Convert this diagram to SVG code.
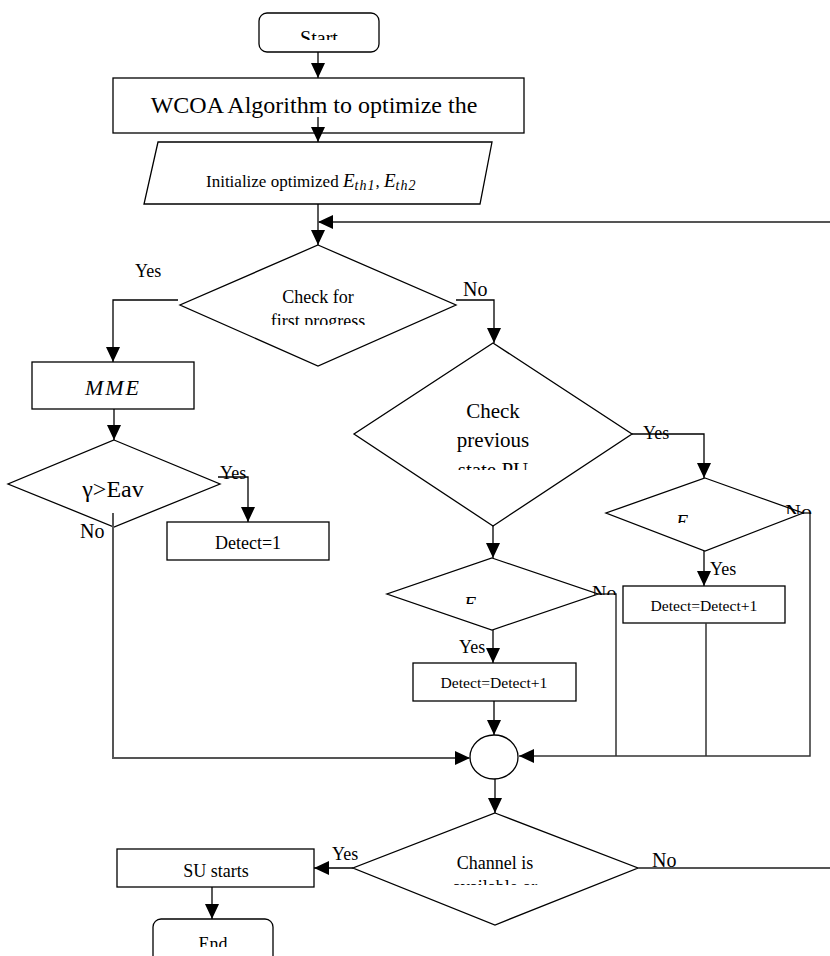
<svg xmlns="http://www.w3.org/2000/svg" width="830" height="956" viewBox="0 0 830 956">
<defs>
<marker id="ah" viewBox="0 0 15 14" refX="15" refY="7" markerWidth="15" markerHeight="14" markerUnits="userSpaceOnUse" orient="auto">
<path d="M0,0 L15,7 L0,14 z" fill="#000"/>
</marker>
<clipPath id="cStart"><rect x="250" y="0" width="140" height="40"/></clipPath>
<clipPath id="cD1"><rect x="200" y="250" width="240" height="75"/></clipPath>
<clipPath id="cD3"><rect x="380" y="350" width="230" height="120"/></clipPath>
<clipPath id="cD4"><rect x="600" y="480" width="200" height="43"/></clipPath>
<clipPath id="cD5"><rect x="380" y="560" width="210" height="44"/></clipPath>
<clipPath id="cD6"><rect x="380" y="820" width="240" height="65"/></clipPath>
<clipPath id="cEnd"><rect x="150" y="915" width="130" height="32"/></clipPath>
<clipPath id="cNo4"><rect x="770" y="490" width="60" height="24"/></clipPath>
<clipPath id="cNo5"><rect x="580" y="570" width="60" height="25"/></clipPath>
</defs>
<style>
.s{fill:#fff;stroke:#000;stroke-width:1.3}
.t{font-family:"Liberation Serif","Times New Roman",serif;fill:#000;text-anchor:middle}
.l{font-family:"Liberation Serif","Times New Roman",serif;fill:#000}
.c{fill:none;stroke:#000;stroke-width:1.3}
.g{fill:none;stroke:#555;stroke-width:2}
.k{fill:none;stroke:#333;stroke-width:1.5}
</style>
<rect width="830" height="956" fill="#fff"/>

<g id="start">
<rect class="s" x="259" y="13" width="120" height="39" rx="8"/>
<text class="t" x="319" y="45" font-size="20" clip-path="url(#cStart)">Start</text>
</g>
<g id="wcoa">
<rect class="s" x="113" y="78" width="411" height="55"/>
<text class="t" x="314" y="113" font-size="24">WCOA Algorithm to optimize the</text>
</g>
<g id="init">
<polygon class="s" points="158,142 492,142 480,204 144,204"/>
<text class="l" x="206" y="187" font-size="17">Initialize optimized <tspan font-style="italic" font-size="19">E</tspan><tspan font-style="italic" font-size="14" dy="3" letter-spacing="1">th1</tspan><tspan dy="-3">, </tspan><tspan font-style="italic" font-size="19">E</tspan><tspan font-style="italic" font-size="14" dy="3" letter-spacing="1">th2</tspan></text>
</g>
<g id="d1">
<polygon class="s" points="318,245 456,305 318,366 180,305"/>
<g clip-path="url(#cD1)">
<text class="t" x="318" y="303" font-size="18">Check for</text>
<text class="t" x="318" y="327" font-size="18">first progress</text>
</g>
</g>
<g id="mme">
<rect class="s" x="32" y="362" width="162" height="47"/>
<text class="t" x="113" y="395" font-size="22" font-style="italic" letter-spacing="2">MME</text>
</g>
<g id="d2">
<polygon class="s" points="114,440 220,484 114,527 8,484"/>
<text class="t" x="113" y="497" font-size="24">γ&gt;Eav</text>
</g>
<g id="detect1">
<rect class="s" x="167" y="522" width="162" height="38"/>
<text class="t" x="248" y="549" font-size="18">Detect=1</text>
</g>
<g id="d3">
<polygon class="s" points="493,343 632,434 493,526 354,434"/>
<g clip-path="url(#cD3)">
<text class="t" x="493" y="418" font-size="21">Check</text>
<text class="t" x="493" y="447" font-size="21">previous</text>
<text class="t" x="493" y="477" font-size="21">state PU</text>
</g>
</g>
<g id="d4">
<polygon class="s" points="705,478 803,513 705,551 606,513"/>
<text class="l" x="676" y="529" font-size="20" font-style="italic" clip-path="url(#cD4)">E</text>
</g>
<g id="detect3">
<rect class="s" x="623" y="586" width="162" height="37"/>
<text class="t" x="704" y="611" font-size="15.6">Detect=Detect+1</text>
</g>
<g id="d5">
<polygon class="s" points="492,558 598,594 492,630 387,594"/>
<text class="l" x="464" y="611" font-size="20" font-style="italic" clip-path="url(#cD5)">E</text>
</g>
<g id="detect2">
<rect class="s" x="413" y="663" width="163" height="38"/>
<text class="t" x="494" y="688" font-size="15.6">Detect=Detect+1</text>
</g>
<g id="join">
<ellipse class="s" cx="494" cy="757" rx="24" ry="22"/>
</g>
<g id="d6">
<polygon class="s" points="495,813 638,868 495,925 353,868"/>
<g clip-path="url(#cD6)">
<text class="t" x="495" y="869" font-size="18">Channel is</text>
<text class="t" x="495" y="893" font-size="18">available or</text>
</g>
</g>
<g id="su">
<rect class="s" x="117" y="849" width="197" height="38"/>
<text class="t" x="216" y="877" font-size="18">SU starts</text>
</g>
<g id="end">
<rect class="s" x="153" y="919" width="120" height="60" rx="8"/>
<text class="t" x="213" y="950" font-size="18" clip-path="url(#cEnd)">End</text>
</g>

<g id="connectors">
<path class="c" d="M318,52 V78" marker-end="url(#ah)"/>
<path class="c" d="M318,117 V142" marker-end="url(#ah)"/>
<path class="c" d="M318,204 V245" marker-end="url(#ah)"/>
<path class="g" d="M830,222 H318" marker-end="url(#ah)"/>
<path class="c" d="M178,300 H113 V362" marker-end="url(#ah)"/>
<path class="c" d="M456,300 H494 V343" marker-end="url(#ah)"/>
<path class="c" d="M114,409 V440" marker-end="url(#ah)"/>
<path class="c" d="M218,477 H248 V522" marker-end="url(#ah)"/>
<path class="g" d="M113,513 V758 H470" marker-end="url(#ah)"/>
<path class="c" d="M632,434 H704 V478" marker-end="url(#ah)"/>
<path class="c" d="M493,526 V558" marker-end="url(#ah)"/>
<path class="c" d="M704,551 V586" marker-end="url(#ah)"/>
<path class="k" d="M803,513 H810 V756 H519" marker-end="url(#ah)"/>
<path class="k" d="M706,623 V756"/>
<path class="k" d="M598,594 H616 V756"/>
<path class="c" d="M493,630 V663" marker-end="url(#ah)"/>
<path class="c" d="M494,701 V735" marker-end="url(#ah)"/>
<path class="c" d="M495,779 V813" marker-end="url(#ah)"/>
<path class="c" d="M353,868 H314" marker-end="url(#ah)"/>
<path class="g" d="M638,868 H830"/>
<path class="c" d="M212,887 V919" marker-end="url(#ah)"/>
</g>

<g id="labels">
<text class="l" x="135" y="277" font-size="18">Yes</text>
<text class="l" x="463" y="296" font-size="20">No</text>
<text class="l" x="220" y="479" font-size="18">Yes</text>
<text class="l" x="80" y="538" font-size="20">No</text>
<text class="l" x="643" y="439" font-size="18">Yes</text>
<text class="l" x="785" y="519" font-size="22" clip-path="url(#cNo4)">No</text>
<text class="l" x="710" y="575" font-size="18">Yes</text>
<text class="l" x="592" y="600" font-size="20" clip-path="url(#cNo5)">No</text>
<text class="l" x="459" y="653" font-size="18">Yes</text>
<text class="l" x="332" y="860" font-size="18">Yes</text>
<text class="l" x="652" y="867" font-size="20">No</text>
</g>
</svg>
